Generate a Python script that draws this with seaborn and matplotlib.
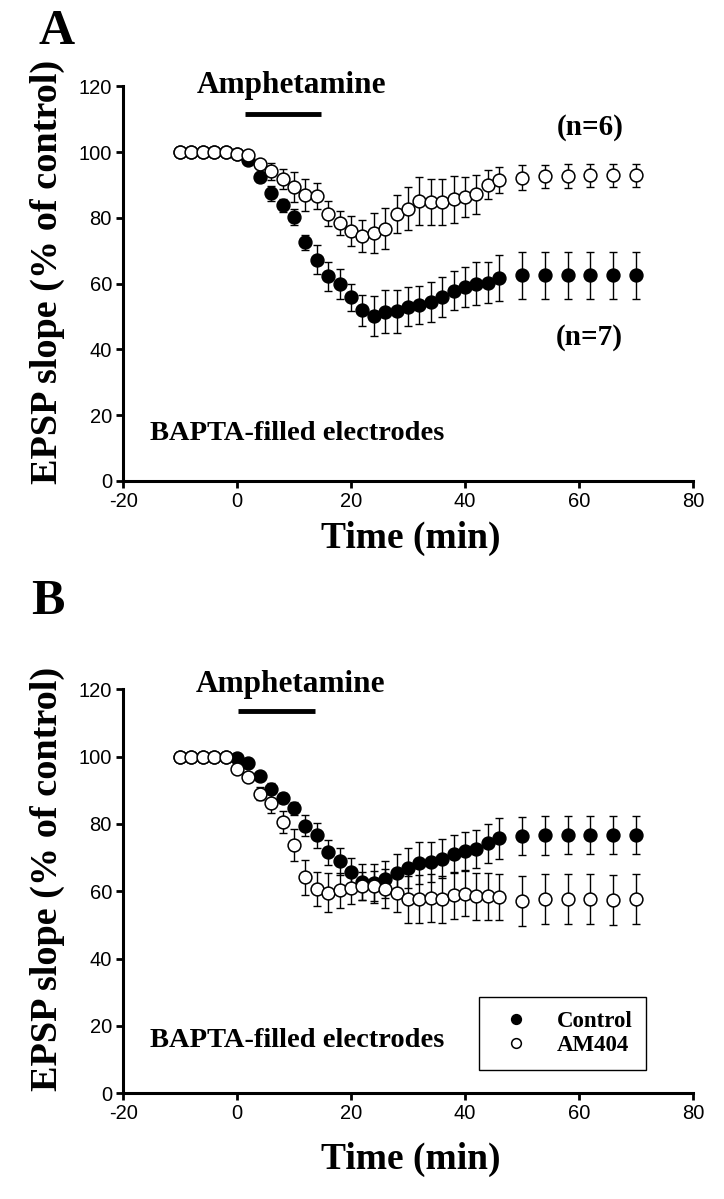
import numpy as np
import seaborn as sns
import matplotlib.pyplot as plt
from matplotlib.lines import Line2D

# time points (min)
time = [-10, -8, -6, -4, -2, 0, 2, 4, 6, 8, 10, 12, 14, 16, 18, 20, 22, 24, 26, 28,
        30, 32, 34, 36, 38, 40, 42, 44, 46, 50, 54, 58, 62, 66, 70]

# panel A: open circles (n=6), filled circles (n=7)
a_open = [100, 100, 100, 100, 100, 99.5, 99.0, 96.5, 94.2, 91.9, 89.4, 86.9, 86.7, 81.3, 78.5,
          76.0, 74.5, 75.4, 76.7, 81.1, 82.8, 85.1, 84.8, 84.8, 85.6, 86.3, 87.1, 90.1, 91.6,
          92.2, 92.6, 92.7, 93.0, 93.0, 93.0]
a_open_sem = [0, 0, 0, 0, 0, 0.5, 0.8, 1.2, 2.6, 3.0, 4.5, 4.8, 4.0, 3.7, 3.7, 4.6, 4.8, 6.0,
              6.3, 5.8, 6.5, 7.3, 7.1, 7.1, 7.1, 6.1, 5.8, 4.4, 4.0, 3.8, 3.6, 3.6, 3.5, 3.5, 3.5]
a_fill = [100, 100, 100, 100, 100, 99.5, 97.5, 92.4, 87.4, 83.8, 80.3, 72.5, 67.3, 62.2, 59.8,
          55.8, 51.9, 50.1, 51.4, 51.6, 53.0, 53.4, 54.4, 55.9, 57.8, 59.0, 60.0, 60.3, 61.7,
          62.5, 62.5, 62.5, 62.5, 62.5, 62.5]
a_fill_sem = [0, 0, 0, 0, 0, 0.5, 1.0, 1.5, 2.2, 2.0, 2.4, 2.2, 4.4, 4.4, 4.6, 4.0, 4.7, 6.0,
              6.5, 6.5, 6.0, 5.8, 6.2, 6.2, 5.9, 6.1, 6.5, 6.3, 6.9, 7.2, 7.2, 7.2, 7.2, 7.2, 7.2]

# panel B: Control (filled), AM404 (open)
b_ctrl = [100, 100, 100, 100, 100, 99.7, 98.1, 94.2, 90.5, 87.8, 84.6, 79.5, 76.6, 71.6, 68.9,
          65.6, 62.8, 62.3, 63.5, 65.4, 66.9, 68.4, 68.7, 69.7, 71.0, 71.9, 72.6, 74.2, 75.7,
          76.4, 76.6, 76.7, 76.7, 76.7, 76.7]
b_ctrl_sem = [0, 0, 0, 0, 0, 0.5, 0.8, 1.2, 1.5, 1.5, 2.0, 3.0, 3.8, 3.7, 4.0, 4.2, 5.3, 5.8,
              5.6, 5.8, 6.0, 6.2, 6.0, 5.7, 5.7, 5.6, 5.6, 5.9, 6.0, 5.7, 5.7, 5.7, 5.7, 5.7, 5.7]
b_am = [100, 100, 100, 100, 100, 96.4, 93.8, 89.0, 86.1, 80.6, 73.7, 64.1, 60.6, 59.5, 60.3,
        61.0, 61.5, 61.5, 60.8, 59.5, 57.6, 57.7, 58.0, 57.6, 58.8, 59.3, 58.5, 58.5, 58.3,
        57.1, 57.6, 57.6, 57.7, 57.4, 57.6]
b_am_sem = [0, 0, 0, 0, 0, 0.8, 1.2, 2.0, 3.0, 3.2, 4.7, 5.2, 5.0, 5.8, 5.2, 4.7, 4.2, 4.5,
            5.7, 5.7, 7.0, 7.0, 7.0, 7.0, 7.0, 6.8, 7.0, 7.0, 6.8, 7.4, 7.4, 7.4, 7.4, 7.4, 7.4]

sns.set_style("ticks")
plt.rcParams['font.family'] = ['Liberation Sans', 'DejaVu Sans']
plt.rcParams.update({'text.color': 'black', 'axes.labelcolor': 'black',
                     'axes.edgecolor': 'black', 'xtick.color': 'black',
                     'ytick.color': 'black', 'axes.unicode_minus': False})
SERIF = ['Liberation Serif', 'DejaVu Serif']

fig = plt.figure(figsize=(7.24, 11.99), dpi=100)
axA = fig.add_axes([0.170, 0.599, 0.787, 0.329])
axB = fig.add_axes([0.170, 0.0882, 0.787, 0.337])


def draw_series(ax, y, err, filled, label=None):
    ax.errorbar(time, y, yerr=err, fmt='none', ecolor='black', elinewidth=1.0,
                capsize=2.6, capthick=1.0, zorder=2)
    sns.scatterplot(x=time, y=y, ax=ax, s=85, marker='o',
                    color='black' if filled else 'white', edgecolor='black',
                    linewidth=1.1, zorder=3 if not filled else 2.5, label=label, legend=False)


def style_axes(ax, xlab_y):
    ax.set_xlim(-20, 80)
    ax.set_ylim(0, 120)
    ax.set_xticks(range(-20, 81, 20))
    ax.set_yticks(range(0, 121, 20))
    for s in ['top', 'right']:
        ax.spines[s].set_visible(False)
    for s in ['left', 'bottom']:
        ax.spines[s].set_linewidth(2.2)
    ax.tick_params(direction='out', length=5, width=2, labelsize=14.5, pad=3)
    ax.set_xlabel('Time (min)', family=SERIF, fontweight='bold', fontsize=27)
    ax.set_ylabel('EPSP slope (% of control)', family=SERIF, fontweight='bold', fontsize=27.5)
    ax.xaxis.set_label_coords(0.505, xlab_y)
    ax.xaxis.label.set_verticalalignment('center')
    ax.yaxis.set_label_coords(-0.133, 0.53)
    ax.yaxis.label.set_verticalalignment('center')


# panel A
draw_series(axA, a_fill, a_fill_sem, True)
draw_series(axA, a_open, a_open_sem, False)
style_axes(axA, -0.145)
axA.plot([1.4, 14.8], [111.7, 111.7], color='black', lw=3.5, solid_capstyle='butt', clip_on=False)
axA.text(9.6, 118.0, 'Amphetamine', family=SERIF, fontweight='bold', fontsize=22.5,
         ha='center', va='baseline', clip_on=False)
axA.text(61.9, 107.6, '(n=6)', family=SERIF, fontweight='bold', fontsize=21, ha='center', va='center')
axA.text(61.9, 43.6, '(n=7)', family=SERIF, fontweight='bold', fontsize=21, ha='center', va='center')
axA.text(-15.3, 12.5, 'BAPTA-filled electrodes', family=SERIF, fontweight='bold', fontsize=20.5,
         ha='left', va='baseline')

# panel B
draw_series(axB, b_ctrl, b_ctrl_sem, True, 'Control')
draw_series(axB, b_am, b_am_sem, False, 'AM404')
style_axes(axB, -0.165)
axB.plot([0.2, 13.7], [113.5, 113.5], color='black', lw=3.5, solid_capstyle='butt', clip_on=False)
axB.text(9.3, 119.2, 'Amphetamine', family=SERIF, fontweight='bold', fontsize=22.5,
         ha='center', va='baseline', clip_on=False)
axB.text(-15.3, 13.7, 'BAPTA-filled electrodes', family=SERIF, fontweight='bold', fontsize=20.5,
         ha='left', va='baseline')

handles = [Line2D([], [], ls='none', marker='o', ms=7, mfc='black', mec='black', mew=1.1),
           Line2D([], [], ls='none', marker='o', ms=7, mfc='white', mec='black', mew=1.1)]
leg = axB.legend(handles, ['Control', 'AM404'], loc='center', bbox_to_anchor=(0.771, 0.148),
                 prop={'family': SERIF, 'weight': 'bold', 'size': 16.5},
                 frameon=True, fancybox=False, framealpha=1, edgecolor='black',
                 borderpad=0.6, handlelength=2.1, handletextpad=0.7, labelspacing=0.12)
leg.get_frame().set_linewidth(1.0)

fig.text(57 / 724, 1 - 32 / 1199, 'A', family=SERIF, fontweight='bold', fontsize=36,
         ha='center', va='center')
fig.text(48 / 724, 1 - 602 / 1199, 'B', family=SERIF, fontweight='bold', fontsize=36,
         ha='center', va='center')

fig.savefig('out.png', dpi=100)
